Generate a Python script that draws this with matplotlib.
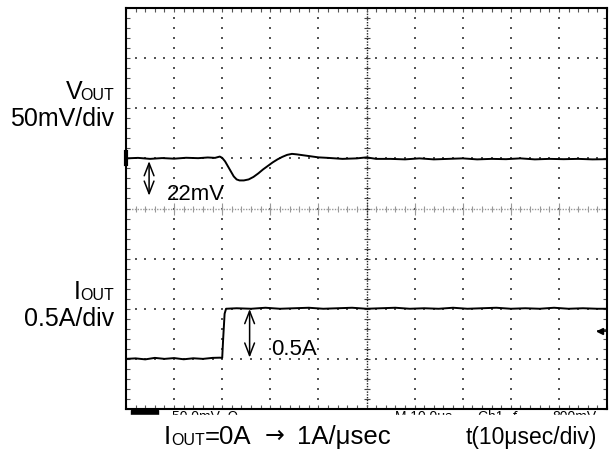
import numpy as np
import matplotlib
matplotlib.use('Agg')
import matplotlib.pyplot as plt
from matplotlib.patches import Rectangle

FONT = ['Liberation Sans', 'DejaVu Sans']
plt.rcParams['font.family'] = FONT

W, H = 613, 454

# Output voltage deviation (time in div, mV)
vout_t = [0.0, 0.25, 0.5, 0.75, 1.0, 1.25, 1.5, 1.7, 1.85, 1.95, 2.0, 2.06, 2.12,
          2.18, 2.24, 2.3, 2.36, 2.45, 2.55, 2.65, 2.75, 2.85, 2.95, 3.05, 3.15,
          3.25, 3.35, 3.45, 3.55, 3.7, 3.85, 4.0, 4.2, 4.5, 4.8, 5.0, 5.2, 5.5,
          5.8, 6.1, 6.4, 6.7, 7.0, 7.3, 7.6, 7.9, 8.2, 8.5, 8.8, 9.1, 9.4, 9.7, 10.0]
vout_mv = [0.0, 0.5, -0.5, 0.3, -0.3, 0.6, 0.2, 0.9, 0.5, 1.8, 0.5, -3.0, -8.0,
           -13.0, -18.0, -21.0, -22.0, -22.0, -21.0, -18.5, -15.0, -11.0, -7.5, -4.0, -1.0,
           1.5, 3.5, 4.5, 4.0, 3.0, 2.0, 1.0, 0.5, -0.5, 0.0, 1.0, -0.5, -0.5,
           -1.0, 0.0, -1.0, -0.5, 0.0, -1.0, -0.5, -0.8, 0.0, -1.0, -0.5, -0.8, -0.5, -1.0, -0.8]

# Load current step (time in div, A)
iout_t = [0.0, 0.2, 0.4, 0.6, 0.8, 1.0, 1.2, 1.4, 1.6, 1.8, 1.95, 2.0, 2.02, 2.05,
          2.08, 2.3, 2.6, 2.9, 3.2, 3.5, 3.8, 4.1, 4.4, 4.7, 5.0, 5.3, 5.6, 5.9,
          6.2, 6.5, 6.8, 7.1, 7.4, 7.7, 8.0, 8.3, 8.6, 8.9, 9.2, 9.5, 9.8, 10.0]
iout_a = [0.0, 0.005, -0.005, 0.01, 0.0, 0.008, -0.004, 0.006, 0.0, 0.01, 0.012, 0.01,
          0.2, 0.45, 0.5, 0.505, 0.5, 0.51, 0.5, 0.505, 0.51, 0.5, 0.505, 0.51, 0.5,
          0.505, 0.51, 0.5, 0.505, 0.5, 0.51, 0.5, 0.505, 0.51, 0.5, 0.505, 0.5, 0.51,
          0.5, 0.505, 0.5, 0.5]

MV_PER_DIV = 50.0
A_PER_DIV = 0.5
VOUT_ZERO = 5.0    # channel 1 ground level (div)
IOUT_ZERO = 1.0    # channel 2 ground level (div)

fig = plt.figure(figsize=(W / 100, H / 100), dpi=100)
ax = fig.add_axes([126 / W, 1 - 409 / H, 481 / W, 401 / H])
ax.set_xlim(0, 10)
ax.set_ylim(0, 8)

minor_x = np.arange(0, 10.001, 0.2)
minor_y = np.arange(0, 8.001, 0.2)

# dotted graticule
for gx in [1, 2, 3, 4, 6, 7, 8, 9]:
    ax.scatter([gx] * len(minor_y), minor_y, s=0.8, marker='s', color='#555', lw=0, zorder=1)
for gy in [1, 2, 3, 5, 6, 7]:
    ax.scatter(minor_x, [gy] * len(minor_x), s=0.8, marker='s', color='#555', lw=0, zorder=1)

# center cross with tick marks
ax.axhline(4, color='#999999', lw=1, ls=(0, (1, 1)), zorder=1)
ax.plot(minor_x, [4] * len(minor_x), ls='none', marker='|', ms=4, mew=0.8, color='#999999', zorder=1)
ax.plot(np.arange(0, 11), [4] * 11, ls='none', marker='|', ms=8, mew=0.8, color='#999999', zorder=1)
ax.axvline(5, color='#222222', lw=1, ls=(0, (1, 1)), zorder=1)
ax.plot([5] * len(minor_y), minor_y, ls='none', marker='_', ms=4, mew=0.8, color='#444444', zorder=1)

# traces
ax.plot(vout_t, [VOUT_ZERO + v / MV_PER_DIV for v in vout_mv], color='black', lw=1.4, zorder=3)
ax.plot(iout_t, [IOUT_ZERO + a / A_PER_DIV for a in iout_a], color='black', lw=1.4, zorder=3)

# ground marker on the left edge and trigger marker on the right
ax.plot([0.0, 0.0], [VOUT_ZERO - 0.12, VOUT_ZERO + 0.12], color='black', lw=3, clip_on=False, zorder=4)
ax.plot([9.82, 10.0], [1.56, 1.56], color='black', lw=1.2, clip_on=False, zorder=4)
ax.plot([9.85], [1.56], marker='<', ms=5, color='black', clip_on=False, zorder=4)

# measurement arrows
ax.annotate('', xy=(0.48, 4.2), xytext=(0.48, 5.0),
            arrowprops=dict(arrowstyle='<->, head_length=0.9, head_width=0.35', lw=1.1, color='black'))
ax.text(0.85, 4.17, '22mV', fontsize=16, ha='left', va='baseline')
ax.annotate('', xy=(2.57, 0.97), xytext=(2.57, 2.05),
            arrowprops=dict(arrowstyle='<->, head_length=0.9, head_width=0.35', lw=1.1, color='black'))
ax.text(3.02, 1.07, '0.5A', fontsize=16, ha='left', va='baseline')

ax.set_xticks(minor_x)
ax.set_yticks(minor_y)
ax.tick_params(which='both', direction='in', length=3, width=0.8, color='#555555',
               top=True, right=True, labelbottom=False, labelleft=False)
for sp in ax.spines.values():
    sp.set_linewidth(1.5)
    sp.set_color('black')

renderer = fig.canvas.get_renderer()


def put_runs(x, y, runs, ha='left', zorder=5):
    # runs: (text, fontsize, baseline shift in px, gap before in px, family)
    widths = []
    for text, size, dy, gap, fam in runs:
        t = fig.text(0, 0, text, fontsize=size, family=fam)
        widths.append(t.get_window_extent(renderer).width)
        t.remove()
    total = sum(widths) + sum(r[3] for r in runs)
    pos = x - total if ha == 'right' else x
    for (text, size, dy, gap, fam), w in zip(runs, widths):
        pos += gap
        fig.text(pos / W, 1 - (y + dy) / H, text, fontsize=size, family=fam,
                 ha='left', va='baseline', zorder=zorder)
        pos += w


LS = ['Liberation Sans']
DJ = ['DejaVu Sans']

# channel labels
put_runs(114, 99, [('V', 18, 0, 0, LS), ('OUT', 11.5, 1, -2, LS)], ha='right')
put_runs(114, 126, [('50mV/div', 18, 0, 0, LS)], ha='right')
put_runs(114, 299, [('I', 18, 0, 0, LS), ('OUT', 11.5, 1, 0, LS)], ha='right')
put_runs(114, 326, [('0.5A/div', 18, 0, 0, LS)], ha='right')

# scope status line, mostly hidden below the graticule
fig.add_artist(Rectangle((131 / W, 1 - 420 / H), 27 / W, 10 / H,
                         transform=fig.transFigure, color='black', zorder=1))
for sx, s in [(172, '50.0mV  Ω'), (395, 'M 10.0μs'), (478, 'Ch1  ƒ'), (552, '800mV')]:
    fig.text(sx / W, 1 - 421 / H, s, fontsize=10, ha='left', va='baseline', zorder=1)
fig.add_artist(Rectangle((0, 0), 1, 1 - 415 / H, transform=fig.transFigure,
                         color='white', zorder=2))

# caption
put_runs(164, 444, [('I', 18.5, 0, 0, LS), ('OUT', 11.5, 1, 0, LS), ('=0A', 18.5, 0, 0, LS),
                    ('→', 17, -1, 13, DJ), ('1A/μsec', 18.5, 0, 13, LS)])
put_runs(597, 444, [('t(10μsec/div)', 16.5, 0, 0, LS)], ha='right')

fig.savefig('out.png', dpi=100)
